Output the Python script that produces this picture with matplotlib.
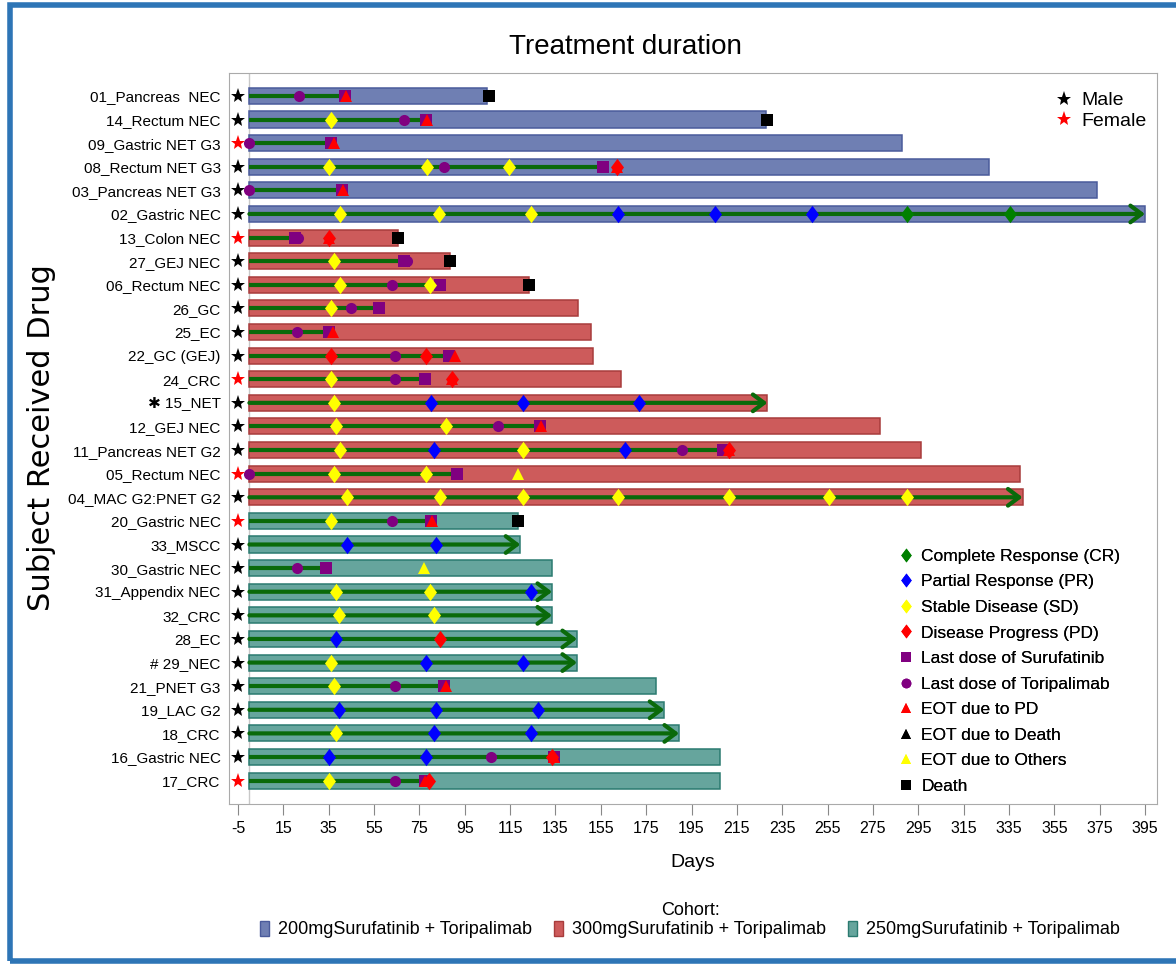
import matplotlib.pyplot as plt
import numpy as np
from matplotlib.patches import Patch, Rectangle
from matplotlib.lines import Line2D

plt.rcParams["axes.unicode_minus"] = False

# subjects from top to bottom
subjects = ["01_Pancreas  NEC", "14_Rectum NEC", "09_Gastric NET G3", "08_Rectum NET G3",
            "03_Pancreas NET G3", "02_Gastric NEC", "13_Colon NEC", "27_GEJ NEC",
            "06_Rectum NEC", "26_GC", "25_EC", "22_GC (GEJ)", "24_CRC", "\u2731 15_NET",
            "12_GEJ NEC", "11_Pancreas NET G2", "05_Rectum NEC", "04_MAC G2:PNET G2",
            "20_Gastric NEC", "33_MSCC", "30_Gastric NEC", "31_Appendix NEC", "32_CRC",
            "28_EC", "# 29_NEC", "21_PNET G3", "19_LAC G2", "18_CRC", "16_Gastric NEC",
            "17_CRC"]
codes = ["01", "14", "09", "08", "03", "02", "13", "27", "06", "26", "25", "22", "24", "15",
         "12", "11", "05", "04", "20", "33", "30", "31", "32", "28", "29", "21", "19", "18",
         "16", "17"]
cohort = ["200"] * 6 + ["300"] * 12 + ["250"] * 12
sex = ["M", "M", "F", "M", "M", "M", "F", "M", "M", "M", "M", "M", "F", "M", "M", "M", "F",
       "M", "F", "M", "M", "M", "M", "M", "M", "M", "M", "M", "M", "F"]
duration = [105, 228, 288, 326, 374, 395, 65.5, 88.5, 123.5, 145, 150.5, 151.5, 164, 228.5,
            278, 296, 340, 341, 118.5, 119.5, 133.5, 133.5, 133.5, 144.5, 144.5, 179.5, 183,
            189.5, 207.5, 207.5]
ongoing = ["02", "15", "04", "33", "31", "32", "28", "29", "19", "18"]

suru_last = {"01": 42, "14": 78, "09": 36, "08": 156, "03": 41, "13": 20, "27": 68, "06": 84,
             "26": 57, "25": 35, "22": 88, "24": 77.5, "12": 128, "11": 209, "05": 91.5,
             "20": 80, "30": 34, "21": 86, "16": 134.5, "17": 77.5}
tori_last = {"01": 22, "14": 68, "09": 0, "08": 86, "03": 0, "13": 21.5, "27": 69.5, "06": 63,
             "26": 45, "25": 21, "22": 64, "24": 64, "12": 109.5, "11": 191, "05": 0,
             "20": 63, "30": 21, "21": 64, "16": 106.5, "17": 64}
cr = {"02": [290, 335.5]}
pr = {"02": [162.5, 205.5, 248], "15": [80, 120.5, 172], "11": [81.5, 165.5], "33": [43, 82.5],
      "31": [124], "28": [38], "29": [78, 120.5], "19": [39.5, 82.5, 127.5],
      "18": [81.5, 124], "16": [35, 78]}
sd = {"14": [36], "08": [35, 78.5, 114.5], "02": [40, 83.5, 124], "27": [37.5],
      "06": [40, 79.5], "26": [36], "24": [36], "15": [37.5], "12": [38, 86.5],
      "11": [40, 120.5], "05": [37.5, 78], "04": [43, 84, 120.5, 162.5, 211.5, 255.5, 290],
      "20": [36], "31": [38, 79.5], "32": [39.5, 81.5], "29": [36], "21": [37.5], "18": [38],
      "17": [35]}
pd_ = {"08": [162], "13": [35], "22": [36, 78], "24": [89.5], "11": [211.5], "28": [84],
       "16": [133.5], "17": [79]}
eot_pd = {"01": 42.5, "14": 78.5, "09": 37.5, "08": 162, "03": 41.5, "13": 35, "25": 37,
          "22": 90.5, "24": 89.5, "12": 128.5, "11": 211.5, "20": 80.5, "21": 86.5,
          "16": 134.5, "17": 77.5}
eot_other = {"05": 118.5, "30": 77}
death = {"01": 105.5, "14": 228.5, "13": 65.5, "27": 88.5, "06": 123.5, "20": 118.5}

cohort_names = {"200": "200mgSurufatinib + Toripalimab",
                "300": "300mgSurufatinib + Toripalimab",
                "250": "250mgSurufatinib + Toripalimab"}
bar_colors = {"200": "#6f7fb3", "300": "#cd5b5b", "250": "#66a59d"}
edge_colors = {"200": "#4a5b9b", "300": "#a83c3c", "250": "#2b7a70"}
green = "#0a6a0a"
sans = ["Liberation Sans", "DejaVu Sans"]
diamond = [(0, 1), (0.75, 0), (0, -1), (-0.75, 0), (0, 1)]

fig = plt.figure(figsize=(11.76, 9.66), dpi=100)
ax = fig.add_axes([229 / 1176, 1 - 804 / 966, (1157 - 229) / 1176, (804 - 73) / 966])

y = np.arange(len(subjects))
ax.axvline(0, color="#c8c8c8", lw=1, zorder=0)
ax.barh(y, duration, left=0, height=0.68,
        color=[bar_colors[c] for c in cohort],
        edgecolor=[edge_colors[c] for c in cohort], linewidth=1.1, zorder=1)

for i, code in enumerate(codes):
    if code in ongoing:
        ax.annotate("", xy=(duration[i], i), xytext=(0, i),
                    arrowprops=dict(arrowstyle="->, head_length=0.4, head_width=0.3",
                                    color=green, lw=3, mutation_scale=20,
                                    shrinkA=0, shrinkB=0), zorder=2)
    else:
        ax.plot([0, suru_last[code]], [i, i], color=green, lw=3,
                solid_capstyle="butt", zorder=2)

def put(d, marker, color, size, z):
    for code, vals in d.items():
        i = codes.index(code)
        vals = vals if isinstance(vals, list) else [vals]
        ax.plot(vals, [i] * len(vals), linestyle="none", marker=marker, color=color,
                markersize=size, markeredgewidth=0, zorder=z)

put(tori_last, "o", "#800080", 8, 3)
put(suru_last, "s", "#800080", 8, 4)
put(cr, diamond, "#008000", 12.5, 5)
put(pr, diamond, "#0000ff", 12.5, 5)
put(sd, diamond, "#ffff00", 12.5, 5)
put(pd_, diamond, "#ff0000", 12.5, 5)
put(eot_pd, "^", "#ff0000", 9, 6)
put(eot_other, "^", "#ffff00", 9, 6)
put(death, "s", "#000000", 8, 6)

for i, s in enumerate(sex):
    ax.plot(-5, i, marker="*", color="black" if s == "M" else "red", markersize=11,
            markeredgewidth=0, zorder=3)

ax.set_xlim(-9, 400.3)
ax.set_ylim(29.99, -0.97)
ax.set_xticks(np.arange(-5, 396, 20))
ax.set_yticks(y)
ax.set_yticklabels(subjects, fontsize=11, family=sans)
for lab in ax.get_xticklabels():
    lab.set_family(sans)
ax.tick_params(axis="x", length=8, color="#888888", labelsize=11.5, pad=4)
ax.tick_params(axis="y", length=0, pad=6)
for sp in ax.spines.values():
    sp.set_color("#aaaaaa")

ax.set_xlabel("Days", fontsize=14, family=sans, labelpad=13)
fig.text(42 / 1176, 0.547, "Subject Received Drug", rotation=90, fontsize=22,
         family="DejaVu Sans", ha="center", va="center")
fig.text(625 / 1176, 1 - 47 / 966, "Treatment duration", fontsize=20, family=sans,
         ha="center", va="center")

sex_handles = [Line2D([], [], linestyle="none", marker="*", color="black", markersize=11,
                      markeredgewidth=0, label="Male"),
               Line2D([], [], linestyle="none", marker="*", color="red", markersize=11,
                      markeredgewidth=0, label="Female")]
leg1 = ax.legend(handles=sex_handles, loc="upper left", bbox_to_anchor=(1046 / 1176, 1 - 82 / 966),
                 bbox_transform=fig.transFigure, frameon=False, prop={"family": sans, "size": 14},
                 handlelength=0.8, handletextpad=0.5, labelspacing=0.15, borderpad=0)
ax.add_artist(leg1)

resp = [(diamond, "#008000", "Complete Response (CR)"), (diamond, "#0000ff", "Partial Response (PR)"),
        (diamond, "#ffff00", "Stable Disease (SD)"), (diamond, "#ff0000", "Disease Progress (PD)"),
        ("s", "#800080", "Last dose of Surufatinib"), ("o", "#800080", "Last dose of Toripalimab"),
        ("^", "#ff0000", "EOT due to PD"), ("^", "#000000", "EOT due to Death"),
        ("^", "#ffff00", "EOT due to Others"), ("s", "#000000", "Death")]
resp_handles = [Line2D([], [], linestyle="none", marker=m, color=c,
                       markersize=10 if m is diamond else 7,
                       markeredgewidth=0, label=l) for m, c, l in resp]
leg2 = ax.legend(handles=resp_handles, loc="upper left", bbox_to_anchor=(890 / 1176, 1 - 540 / 966),
                 bbox_transform=fig.transFigure, frameon=False, prop={"family": sans, "size": 12.5},
                 handlelength=0.8, handletextpad=0.5, labelspacing=0.6, borderpad=0)
ax.add_artist(leg2)

coh_handles = [Patch(facecolor=bar_colors[k], edgecolor=edge_colors[k], label=cohort_names[k])
               for k in ["200", "300", "250"]]
fig.legend(handles=coh_handles, loc="center", bbox_to_anchor=(690 / 1176, 1 - 920 / 966),
           ncol=3, frameon=False, title="Cohort:", prop={"family": sans, "size": 13},
           title_fontproperties={"family": sans, "size": 13},
           handlelength=0.5, handleheight=0.9, handletextpad=0.5, columnspacing=1.2,
           borderpad=0, labelspacing=0.1)

fig.patches.append(Rectangle((10 / 1176, 5 / 966), 1.1, 956 / 966, transform=fig.transFigure,
                             fill=False, edgecolor="#2e75b6", linewidth=4))

fig.savefig("out.png", dpi=100)
